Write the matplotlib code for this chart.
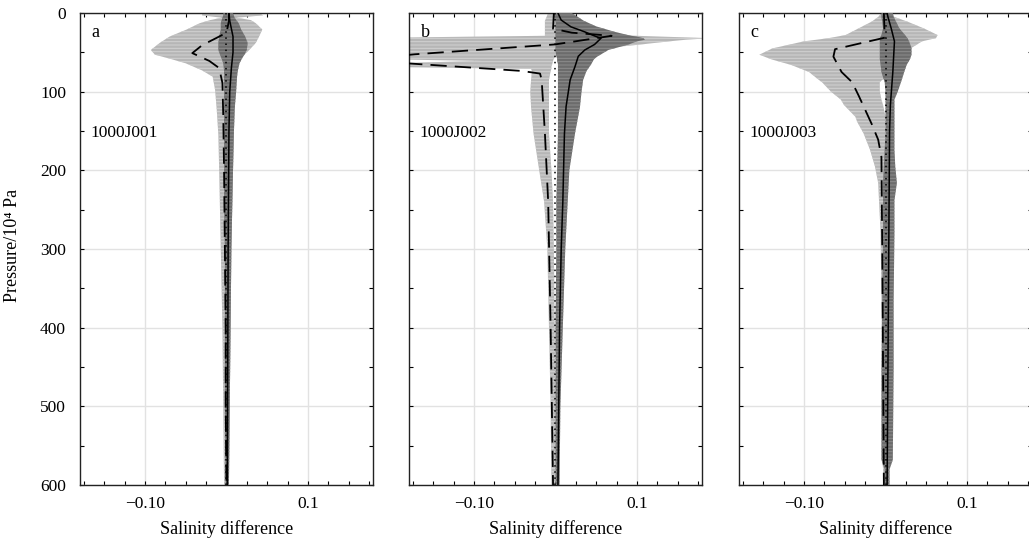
import matplotlib.pyplot as plt
from matplotlib.ticker import MultipleLocator

plt.rcParams['font.family'] = ['Liberation Serif', 'DejaVu Serif']
plt.rcParams['hatch.linewidth'] = 0.7

# --- 1000J001 ---
p_a = [0, 3, 6, 9, 13, 21, 30, 38, 47, 53, 58, 64, 73, 81, 98, 123, 155,
       200, 250, 300, 400, 500, 600]
light_lo_a = [-0.030, -0.030, -0.006, -0.020, -0.033, -0.049, -0.070, -0.082,
              -0.093, -0.088, -0.070, -0.050, -0.030, -0.017, -0.014, -0.012,
              -0.010, -0.009, -0.008, -0.007, -0.005, -0.004, -0.003]
light_hi_a = [0.040, 0.045, 0.012, 0.030, 0.036, 0.044, 0.040, 0.036, 0.028,
              0.022, 0.016, 0.014, 0.012, 0.011, 0.011, 0.010, 0.009, 0.008,
              0.007, 0.006, 0.005, 0.004, 0.003]
dark_lo_a = [-0.004, -0.004, -0.005, -0.006, -0.007, -0.007, -0.009, -0.010,
             -0.010, -0.008, -0.006, -0.004, -0.003, -0.003, -0.003, -0.003,
             -0.003, -0.003, -0.003, -0.002, -0.002, -0.002, -0.001]
dark_hi_a = [0.008, 0.009, 0.010, 0.012, 0.015, 0.018, 0.023, 0.026, 0.025,
             0.022, 0.019, 0.016, 0.014, 0.013, 0.012, 0.010, 0.009, 0.008,
             0.007, 0.006, 0.005, 0.004, 0.003]
p_mean_light_a = [0, 10, 25, 31, 41, 51, 61, 70, 89, 130, 200, 300, 400, 500, 600]
mean_light_a = [0.003, 0.003, 0.000, -0.011, -0.030, -0.042, -0.021, -0.009,
                -0.005, -0.004, -0.003, -0.002, -0.001, -0.001, 0.000]
p_mean_dark_a = [0, 10, 20, 30, 50, 70, 100, 150, 300, 600]
mean_dark_a = [0.003, 0.004, 0.006, 0.008, 0.008, 0.006, 0.004, 0.003, 0.002, 0.001]

# --- 1000J002 ---
p_b = [0, 10, 17, 24, 27, 29, 30, 32, 34, 36, 40, 47, 55, 58, 61, 65, 68, 71,
       74, 85, 100, 120, 153, 200, 240, 300, 400, 500, 600]
light_lo_b = [-0.009, -0.013, -0.013, -0.013, -0.013, -0.013, -0.100, -0.250,
              -0.250, -0.250, -0.250, -0.250, -0.250, -0.250, -0.090, -0.250,
              -0.250, -0.030, -0.029, -0.030, -0.031, -0.030, -0.027, -0.020,
              -0.014, -0.010, -0.008, -0.006, -0.005]
light_hi_b = [0.003, 0.000, 0.000, 0.020, 0.050, 0.100, 0.130, 0.190, 0.160,
              0.140, 0.105, 0.040, 0.000, -0.002, -0.003, -0.004, -0.005,
              -0.005, -0.006, -0.008, -0.008, -0.008, -0.008, -0.005, -0.003,
              -0.002, -0.001, 0.000, 0.000]
dark_lo_b = [-0.003, 0.000, 0.000, 0.000, 0.000, 0.000, 0.000, 0.000, 0.000,
             0.000, 0.000, 0.000, 0.001, 0.002, 0.002, 0.003, 0.003, 0.003,
             0.003, 0.003, 0.003, 0.003, 0.003, 0.002, 0.001, 0.001, 0.000,
             0.000, 0.000]
dark_hi_b = [0.020, 0.035, 0.050, 0.073, 0.085, 0.093, 0.100, 0.108, 0.110,
             0.100, 0.090, 0.065, 0.052, 0.048, 0.046, 0.044, 0.042, 0.040,
             0.038, 0.034, 0.032, 0.030, 0.024, 0.017, 0.015, 0.012, 0.009,
             0.006, 0.005]
p_mean_light_b = [0, 20, 25, 29, 40, 52.5, 60, 64, 73.6, 77, 85, 153, 240, 400, 600]
mean_light_b = [-0.002, -0.003, 0.020, 0.069, -0.001, -0.173, -0.250, -0.182,
                -0.042, -0.019, -0.017, -0.013, -0.009, -0.006, -0.003]
p_mean_dark_b = [0, 9, 17.6, 24, 30, 32, 40, 47, 55, 68, 85, 119, 153, 240,
                 300, 400, 500, 600]
mean_dark_b = [0.003, 0.007, 0.019, 0.036, 0.050, 0.056, 0.048, 0.036, 0.028,
               0.024, 0.018, 0.013, 0.011, 0.009, 0.007, 0.005, 0.004, 0.003]

# --- 1000J003 ---
p_c = [0, 5, 11, 19.5, 28, 32, 36, 45, 53, 59, 66, 75, 85, 88, 100, 110, 117,
       132, 138, 153, 174, 195, 216, 238, 280, 365, 450, 568, 580, 600]
light_lo_c = [-0.005, -0.009, -0.017, -0.033, -0.049, -0.070, -0.100, -0.139,
              -0.155, -0.140, -0.116, -0.094, -0.082, -0.078, -0.067, -0.055,
              -0.051, -0.037, -0.035, -0.027, -0.019, -0.013, -0.009, -0.008,
              -0.006, -0.005, -0.004, -0.004, -0.003, -0.002]
light_hi_c = [0.005, 0.011, 0.027, 0.047, 0.064, 0.062, 0.045, 0.031, 0.026,
              0.023, 0.022, 0.020, -0.004, -0.007, -0.007, -0.005, -0.003,
              0.000, 0.000, 0.000, 0.000, 0.000, 0.000, 0.000, 0.000, 0.000,
              0.000, 0.000, 0.000, 0.000]
dark_lo_c = [-0.005, -0.005, -0.004, -0.003, -0.005, -0.007, -0.007, -0.007,
             -0.007, -0.007, -0.006, -0.005, -0.002, -0.001, 0.000, 0.000,
             0.000, 0.000, 0.000, 0.000, -0.001, -0.002, -0.003, -0.003,
             -0.003, -0.004, -0.005, -0.005, -0.001, -0.001]
dark_hi_c = [0.009, 0.010, 0.013, 0.017, 0.024, 0.027, 0.029, 0.032, 0.032,
             0.030, 0.026, 0.023, 0.020, 0.019, 0.015, 0.011, 0.011, 0.011,
             0.011, 0.011, 0.011, 0.012, 0.014, 0.011, 0.011, 0.010, 0.010,
             0.009, 0.005, 0.005]
p_mean_light_c = [0, 30, 31.4, 46, 55.5, 75, 88, 105, 141, 161, 183, 300, 600]
mean_light_c = [-0.002, -0.001, -0.001, -0.062, -0.064, -0.054, -0.041,
                -0.033, -0.017, -0.009, -0.005, -0.004, -0.002]
p_mean_dark_c = [0, 5, 19.5, 36, 75, 117, 150, 300, 600]
mean_dark_c = [0.002, 0.003, 0.007, 0.011, 0.009, 0.006, 0.005, 0.004, 0.002]

panel_letters = ['a', 'b', 'c']
float_ids = ['1000J001', '1000J002', '1000J003']
x_ticks = [-0.1, 0.1]
x_tick_labels = ['\u22120.10', '0.1']


def draw_panel(ax, p, light_lo, light_hi, dark_lo, dark_hi,
               p_ml, ml, p_md, md, letter, name):
    ax.fill_betweenx(p, light_lo, light_hi, facecolor='#b6b6b6',
                     edgecolor='#d2d2d2', hatch='-----', linewidth=0, zorder=2)
    ax.fill_betweenx(p, dark_lo, dark_hi, facecolor='#6c6c6c',
                     edgecolor='#8c8c8c', hatch='-----', linewidth=0, zorder=3)
    ax.plot(ml, p_ml, color='k', lw=1.3, ls=(0, (9, 4.5)), zorder=4)
    ax.plot(md, p_md, color='k', lw=1.1, zorder=5)
    ax.axvline(0, color='k', lw=1.1, ls=(0, (1, 3)), zorder=6)

    ax.set_xlim(-0.18, 0.18)
    ax.set_ylim(600, 0)
    ax.set_xticks(x_ticks)
    ax.set_xticklabels(x_tick_labels)
    ax.xaxis.set_minor_locator(MultipleLocator(0.025))
    ax.set_yticks(range(0, 601, 100))
    ax.yaxis.set_minor_locator(MultipleLocator(50))
    ax.tick_params(which='both', direction='in', top=True, right=True,
                   length=3, width=0.8, labelsize=12.5)
    ax.tick_params(axis='x', pad=8)
    ax.tick_params(axis='y', pad=10)
    ax.grid(True, which='major', color='#e2e2e2', lw=1)
    ax.set_axisbelow(True)
    for s in ax.spines.values():
        s.set_linewidth(1.0)
        s.set_color('#222222')
    ax.set_xlabel('Salinity difference', fontsize=13, labelpad=6)
    ax.text(0.04, 0.958, letter, transform=ax.transAxes, fontsize=13,
            va='center', ha='left')
    ax.text(0.034, 0.746, name, transform=ax.transAxes, fontsize=12.5,
            va='center', ha='left')


fig = plt.figure(figsize=(10.29, 5.52), dpi=100)
W, H = 1029, 552
lefts = [80, 409, 739]
axes = [fig.add_axes([l / W, 67 / H, 293 / W, 472 / H]) for l in lefts]

draw_panel(axes[0], p_a, light_lo_a, light_hi_a, dark_lo_a, dark_hi_a,
           p_mean_light_a, mean_light_a, p_mean_dark_a, mean_dark_a,
           panel_letters[0], float_ids[0])
draw_panel(axes[1], p_b, light_lo_b, light_hi_b, dark_lo_b, dark_hi_b,
           p_mean_light_b, mean_light_b, p_mean_dark_b, mean_dark_b,
           panel_letters[1], float_ids[1])
draw_panel(axes[2], p_c, light_lo_c, light_hi_c, dark_lo_c, dark_hi_c,
           p_mean_light_c, mean_light_c, p_mean_dark_c, mean_dark_c,
           panel_letters[2], float_ids[2])

fig.text(13 / W, 1 - 245 / H, 'Pressure/10\u2074 Pa', fontsize=13,
         rotation=90, ha='center', va='center')
for ax in axes[1:]:
    ax.tick_params(labelleft=False)

fig.savefig('out.png', dpi=100)
